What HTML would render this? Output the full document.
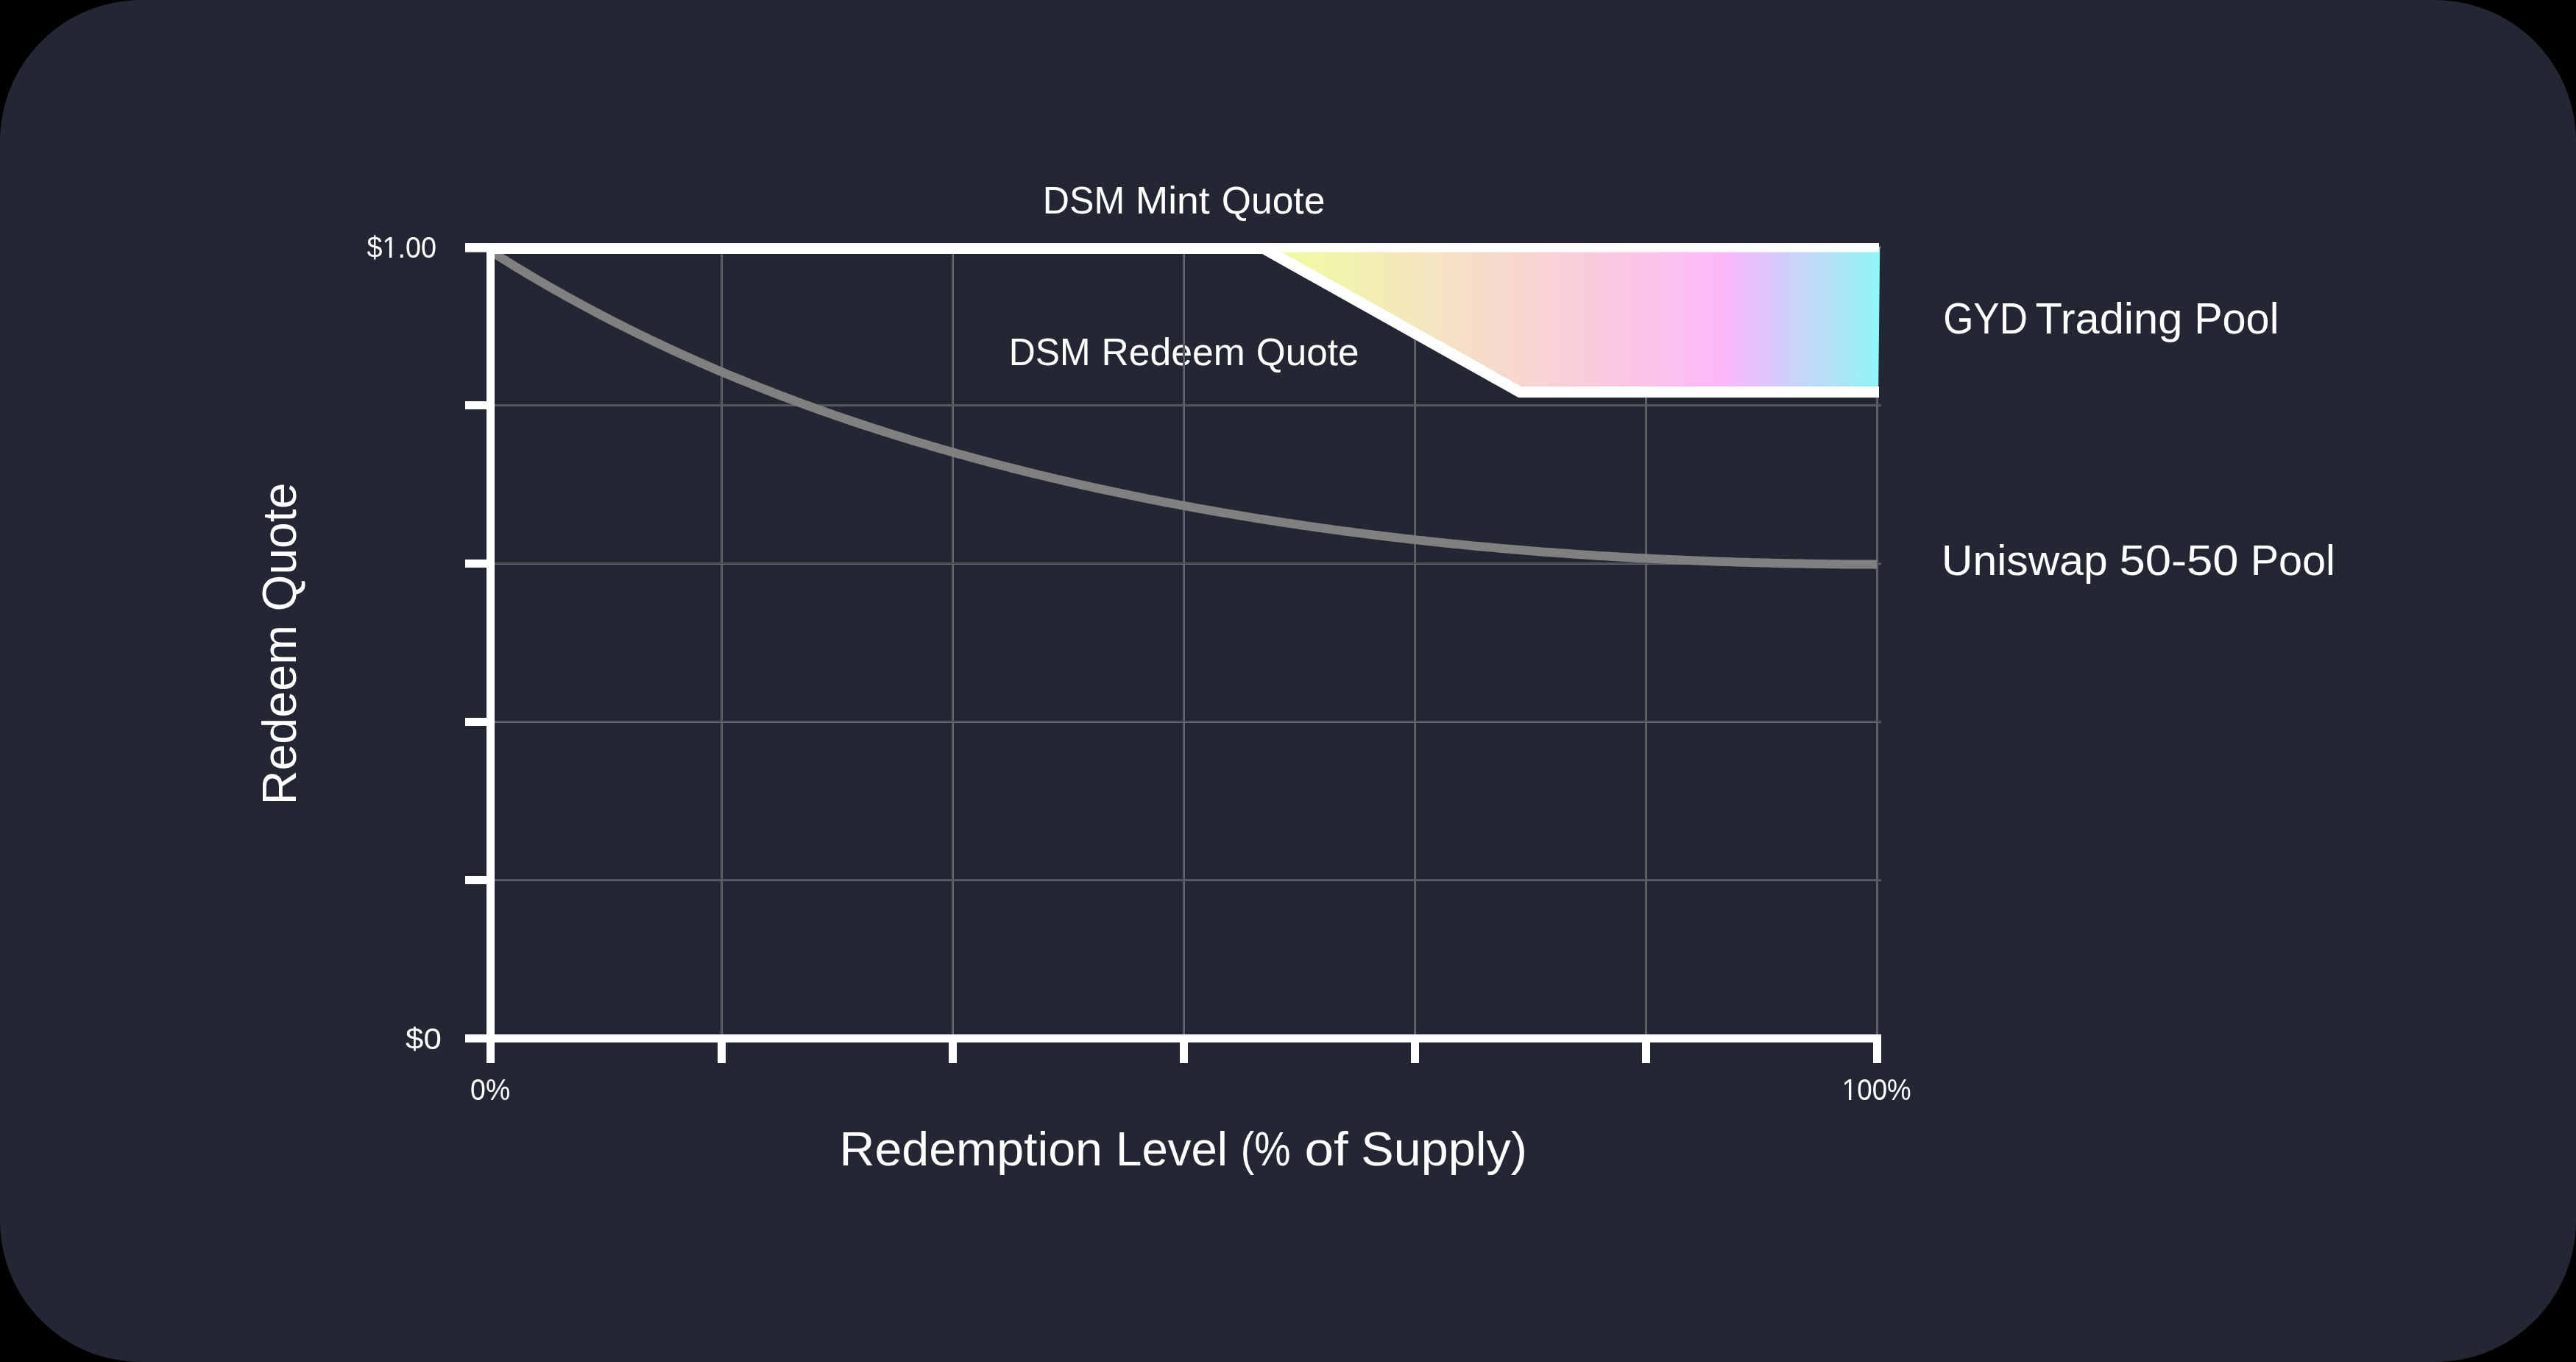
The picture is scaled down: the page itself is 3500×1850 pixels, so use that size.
<!DOCTYPE html>
<html><head><meta charset="utf-8"><style>
html,body{margin:0;padding:0;background:#000;}
body{width:3500px;height:1850px;overflow:hidden;}
svg{display:block;will-change:transform;}
text{font-family:"Liberation Sans",sans-serif;fill:#fff;-webkit-font-smoothing:antialiased;}
</style></head><body>
<svg width="3500" height="1850" viewBox="0 0 3500 1850">
<defs>
<linearGradient id="g" gradientUnits="userSpaceOnUse" x1="1740" y1="0" x2="2554" y2="0">
<stop offset="0" stop-color="#effca0"/>
<stop offset="0.3" stop-color="#f6dfc6"/>
<stop offset="0.5" stop-color="#f9cdda"/>
<stop offset="0.74" stop-color="#fcb8fa"/>
<stop offset="0.827" stop-color="#d8c9fb"/>
<stop offset="0.86" stop-color="#c8d5fa"/>
<stop offset="0.92" stop-color="#b2e2f6"/>
<stop offset="1" stop-color="#8ff5f3"/>
</linearGradient>
</defs>
<rect width="3500" height="1850" rx="192" ry="192" fill="#232733"/>
<text id="mint0" x="1416.87" y="290.3" font-size="51.6" textLength="111.27" lengthAdjust="spacingAndGlyphs">DSM</text>
<text id="mint1" x="1542.65" y="290.3" font-size="51.6" textLength="100.92" lengthAdjust="spacingAndGlyphs">Mint</text>
<text id="mint2" x="1659.80" y="290.3" font-size="51.6" textLength="140.58" lengthAdjust="spacingAndGlyphs">Quote</text>
<text id="red0" x="1370.75" y="495.5" font-size="51.6" textLength="110.80" lengthAdjust="spacingAndGlyphs">DSM</text>
<text id="red1" x="1496.56" y="495.5" font-size="51.6" textLength="195.11" lengthAdjust="spacingAndGlyphs">Redeem</text>
<text id="red2" x="1706.84" y="495.5" font-size="51.6" textLength="139.64" lengthAdjust="spacingAndGlyphs">Quote</text>
<text id="gyd0" x="2640.15" y="453.1" font-size="58.4" textLength="114.81" lengthAdjust="spacingAndGlyphs">GYD</text>
<text id="gyd1" x="2765.54" y="453.1" font-size="58.4" textLength="199.76" lengthAdjust="spacingAndGlyphs">Trading</text>
<text id="gyd2" x="2981.15" y="453.1" font-size="58.4" textLength="115.30" lengthAdjust="spacingAndGlyphs">Pool</text>
<text id="uni0" x="2638.08" y="781.2" font-size="58.0" textLength="225.52" lengthAdjust="spacingAndGlyphs">Uniswap</text>
<text id="uni1" x="2879.41" y="781.2" font-size="58.0" textLength="162.08" lengthAdjust="spacingAndGlyphs">50-50</text>
<text id="uni2" x="3057.63" y="781.2" font-size="58.0" textLength="115.28" lengthAdjust="spacingAndGlyphs">Pool</text>
<text id="lvl0" x="1140.54" y="1583.3" font-size="64.2" textLength="357.44" lengthAdjust="spacingAndGlyphs">Redemption</text>
<text id="lvl1" x="1516.07" y="1583.3" font-size="64.2" textLength="151.89" lengthAdjust="spacingAndGlyphs">Level</text>
<text id="lvl2" x="1685.68" y="1583.3" font-size="64.2" textLength="67.74" lengthAdjust="spacingAndGlyphs">(%</text>
<text id="lvl3" x="1772.45" y="1583.3" font-size="64.2" textLength="59.45" lengthAdjust="spacingAndGlyphs">of</text>
<text id="lvl4" x="1849.27" y="1583.3" font-size="64.2" textLength="225.62" lengthAdjust="spacingAndGlyphs">Supply)</text>
<text id="tk0" x="498.52" y="350.4" font-size="41" textLength="94.44" lengthAdjust="spacingAndGlyphs">$1.00</text>
<text id="tk00" x="551.07" y="1424.8" font-size="41" textLength="48.80" lengthAdjust="spacingAndGlyphs">$0</text>
<text id="tp00" x="639.10" y="1494.0" font-size="41" textLength="54.05" lengthAdjust="spacingAndGlyphs">0%</text>
<text id="tp10" x="2502.86" y="1493.6" font-size="41" textLength="93.90" lengthAdjust="spacingAndGlyphs">100%</text>
<text id="rq0" transform="translate(402.0,1093.32) rotate(-90)" font-size="64.2" textLength="244.47" lengthAdjust="spacingAndGlyphs">Redeem</text>
<text id="rq1" transform="translate(402.0,830.49) rotate(-90)" font-size="64.2" textLength="174.83" lengthAdjust="spacingAndGlyphs">Quote</text>
<rect x="521" y="347" width="7.97" height="3" fill="#232733"/><rect x="532.38" y="347" width="7.6" height="3" fill="#232733"/><rect x="2504" y="1491" width="7.97" height="3" fill="#232733"/><rect x="2515.29" y="1491" width="7.7" height="3" fill="#232733"/>
<rect x="979" y="345" width="1" height="1060" fill="#5b5f69"/><rect x="980" y="345" width="1" height="1060" fill="#4f535c"/><rect x="981" y="345" width="1" height="1060" fill="#676a74"/><rect x="1293" y="345" width="1" height="1060" fill="#5b5f69"/><rect x="1294" y="345" width="1" height="1060" fill="#4f535c"/><rect x="1295" y="345" width="1" height="1060" fill="#676a74"/><rect x="1607" y="345" width="1" height="1060" fill="#5b5f69"/><rect x="1608" y="345" width="1" height="1060" fill="#4f535c"/><rect x="1609" y="345" width="1" height="1060" fill="#676a74"/><rect x="1921" y="345" width="1" height="1060" fill="#5b5f69"/><rect x="1922" y="345" width="1" height="1060" fill="#4f535c"/><rect x="1923" y="345" width="1" height="1060" fill="#676a74"/><rect x="2235" y="345" width="1" height="1060" fill="#5b5f69"/><rect x="2236" y="345" width="1" height="1060" fill="#4f535c"/><rect x="2237" y="345" width="1" height="1060" fill="#676a74"/><rect x="2549" y="345" width="1" height="1060" fill="#5b5f69"/><rect x="2550" y="345" width="1" height="1060" fill="#4f535c"/><rect x="2551" y="345" width="1" height="1060" fill="#676a74"/><rect x="672" y="334" width="1884" height="1" fill="#52565f"/><rect x="672" y="335" width="1884" height="1" fill="#4b4f58"/><rect x="672" y="336" width="1884" height="1" fill="#64676f"/><rect x="672" y="549" width="1884" height="1" fill="#52565f"/><rect x="672" y="550" width="1884" height="1" fill="#4b4f58"/><rect x="672" y="551" width="1884" height="1" fill="#64676f"/><rect x="672" y="764" width="1884" height="1" fill="#52565f"/><rect x="672" y="765" width="1884" height="1" fill="#4b4f58"/><rect x="672" y="766" width="1884" height="1" fill="#64676f"/><rect x="672" y="979" width="1884" height="1" fill="#52565f"/><rect x="672" y="980" width="1884" height="1" fill="#4b4f58"/><rect x="672" y="981" width="1884" height="1" fill="#64676f"/><rect x="672" y="1194" width="1884" height="1" fill="#52565f"/><rect x="672" y="1195" width="1884" height="1" fill="#4b4f58"/><rect x="672" y="1196" width="1884" height="1" fill="#64676f"/>
<path d="M667.0,341.4 L673.0,345.2 L679.0,349.0 L685.0,352.7 L691.0,356.4 L697.0,360.1 L703.0,363.8 L709.0,367.4 L715.0,371.0 L721.0,374.6 L727.0,378.1 L733.0,381.6 L739.0,385.1 L745.0,388.6 L751.0,392.0 L757.0,395.4 L763.0,398.8 L769.0,402.2 L775.0,405.5 L781.0,408.8 L787.0,412.1 L793.0,415.3 L799.0,418.5 L805.0,421.7 L811.0,424.9 L817.0,428.1 L823.0,431.2 L829.0,434.3 L835.0,437.4 L841.0,440.4 L847.0,443.4 L853.0,446.5 L859.0,449.4 L865.0,452.4 L871.0,455.3 L877.0,458.2 L883.0,461.1 L889.0,464.0 L895.0,466.8 L901.0,469.7 L907.0,472.5 L913.0,475.2 L919.0,478.0 L925.0,480.7 L931.0,483.5 L937.0,486.1 L943.0,488.8 L949.0,491.5 L955.0,494.1 L961.0,496.7 L967.0,499.3 L973.0,501.9 L979.0,504.4 L985.0,507.0 L991.0,509.5 L997.0,512.0 L1003.0,514.4 L1009.0,516.9 L1015.0,519.3 L1021.0,521.7 L1027.0,524.1 L1033.0,526.5 L1039.0,528.9 L1045.0,531.2 L1051.0,533.6 L1057.0,535.9 L1063.0,538.2 L1069.0,540.4 L1075.0,542.7 L1081.0,544.9 L1087.0,547.1 L1093.0,549.3 L1099.0,551.5 L1105.0,553.7 L1111.0,555.9 L1117.0,558.0 L1123.0,560.1 L1129.0,562.2 L1135.0,564.3 L1141.0,566.4 L1147.0,568.4 L1153.0,570.5 L1159.0,572.5 L1165.0,574.5 L1171.0,576.5 L1177.0,578.5 L1183.0,580.4 L1189.0,582.4 L1195.0,584.3 L1201.0,586.2 L1207.0,588.1 L1213.0,590.0 L1219.0,591.9 L1225.0,593.8 L1231.0,595.6 L1237.0,597.4 L1243.0,599.2 L1249.0,601.1 L1255.0,602.8 L1261.0,604.6 L1267.0,606.4 L1273.0,608.1 L1279.0,609.9 L1285.0,611.6 L1291.0,613.3 L1297.0,615.0 L1303.0,616.7 L1309.0,618.3 L1315.0,620.0 L1321.0,621.6 L1327.0,623.3 L1333.0,624.9 L1339.0,626.5 L1345.0,628.1 L1351.0,629.7 L1357.0,631.2 L1363.0,632.8 L1369.0,634.3 L1375.0,635.9 L1381.0,637.4 L1387.0,638.9 L1393.0,640.4 L1399.0,641.9 L1405.0,643.3 L1411.0,644.8 L1417.0,646.3 L1423.0,647.7 L1429.0,649.1 L1435.0,650.5 L1441.0,651.9 L1447.0,653.3 L1453.0,654.7 L1459.0,656.1 L1465.0,657.5 L1471.0,658.8 L1477.0,660.1 L1483.0,661.5 L1489.0,662.8 L1495.0,664.1 L1501.0,665.4 L1507.0,666.7 L1513.0,668.0 L1519.0,669.2 L1525.0,670.5 L1531.0,671.7 L1537.0,673.0 L1543.0,674.2 L1549.0,675.4 L1555.0,676.6 L1561.0,677.8 L1567.0,679.0 L1573.0,680.1 L1579.0,681.3 L1585.0,682.5 L1591.0,683.6 L1597.0,684.7 L1603.0,685.9 L1609.0,687.0 L1615.0,688.1 L1621.0,689.2 L1627.0,690.3 L1633.0,691.4 L1639.0,692.4 L1645.0,693.5 L1651.0,694.5 L1657.0,695.6 L1663.0,696.6 L1669.0,697.6 L1675.0,698.7 L1681.0,699.7 L1687.0,700.7 L1693.0,701.6 L1699.0,702.6 L1705.0,703.6 L1711.0,704.6 L1717.0,705.5 L1723.0,706.5 L1729.0,707.4 L1735.0,708.3 L1741.0,709.2 L1747.0,710.1 L1753.0,711.0 L1759.0,711.9 L1765.0,712.8 L1771.0,713.7 L1777.0,714.6 L1783.0,715.4 L1789.0,716.3 L1795.0,717.1 L1801.0,718.0 L1807.0,718.8 L1813.0,719.6 L1819.0,720.4 L1825.0,721.2 L1831.0,722.0 L1837.0,722.8 L1843.0,723.6 L1849.0,724.3 L1855.0,725.1 L1861.0,725.9 L1867.0,726.6 L1873.0,727.3 L1879.0,728.1 L1885.0,728.8 L1891.0,729.5 L1897.0,730.2 L1903.0,730.9 L1909.0,731.6 L1915.0,732.3 L1921.0,733.0 L1927.0,733.6 L1933.0,734.3 L1939.0,735.0 L1945.0,735.6 L1951.0,736.2 L1957.0,736.9 L1963.0,737.5 L1969.0,738.1 L1975.0,738.7 L1981.0,739.3 L1987.0,739.9 L1993.0,740.5 L1999.0,741.1 L2005.0,741.7 L2011.0,742.2 L2017.0,742.8 L2023.0,743.3 L2029.0,743.9 L2035.0,744.4 L2041.0,745.0 L2047.0,745.5 L2053.0,746.0 L2059.0,746.5 L2065.0,747.0 L2071.0,747.5 L2077.0,748.0 L2083.0,748.5 L2089.0,748.9 L2095.0,749.4 L2101.0,749.9 L2107.0,750.3 L2113.0,750.8 L2119.0,751.2 L2125.0,751.6 L2131.0,752.1 L2137.0,752.5 L2143.0,752.9 L2149.0,753.3 L2155.0,753.7 L2161.0,754.1 L2167.0,754.5 L2173.0,754.9 L2179.0,755.2 L2185.0,755.6 L2191.0,756.0 L2197.0,756.3 L2203.0,756.7 L2209.0,757.0 L2215.0,757.3 L2221.0,757.7 L2227.0,758.0 L2233.0,758.3 L2239.0,758.6 L2245.0,758.9 L2251.0,759.2 L2257.0,759.5 L2263.0,759.8 L2269.0,760.1 L2275.0,760.3 L2281.0,760.6 L2287.0,760.8 L2293.0,761.1 L2299.0,761.3 L2305.0,761.6 L2311.0,761.8 L2317.0,762.0 L2323.0,762.3 L2329.0,762.5 L2335.0,762.7 L2341.0,762.9 L2347.0,763.1 L2353.0,763.3 L2359.0,763.5 L2365.0,763.7 L2371.0,763.8 L2377.0,764.0 L2383.0,764.2 L2389.0,764.3 L2395.0,764.5 L2401.0,764.6 L2407.0,764.8 L2413.0,764.9 L2419.0,765.1 L2425.0,765.2 L2431.0,765.3 L2437.0,765.4 L2443.0,765.5 L2449.0,765.6 L2455.0,765.7 L2461.0,765.8 L2467.0,765.9 L2473.0,766.0 L2479.0,766.1 L2485.0,766.2 L2491.0,766.2 L2497.0,766.3 L2503.0,766.4 L2509.0,766.4 L2515.0,766.5 L2521.0,766.5 L2527.0,766.6 L2533.0,766.6 L2539.0,766.6 L2545.0,766.6 L2550.0,766.7" fill="none" stroke="#808080" stroke-width="12"/>
<polygon points="1719,336 2554.2,336 2552.2,526 2066,526" fill="url(#g)"/>
<polyline points="667,337.5 1717,337.5 2065,532.5 2553,532.5" fill="none" stroke="#ffffff" stroke-width="15" stroke-linejoin="miter"/>
<rect x="632" y="330" width="1921" height="12.5" fill="#ffffff"/>
<rect x="661" y="330" width="11" height="1114" fill="#ffffff"/>
<rect x="632" y="1405" width="1924" height="11" fill="#ffffff"/>
<rect x="632" y="330.0" width="35" height="11" fill="#ffffff"/><rect x="632" y="545.0" width="35" height="11" fill="#ffffff"/><rect x="632" y="760.0" width="35" height="11" fill="#ffffff"/><rect x="632" y="975.0" width="35" height="11" fill="#ffffff"/><rect x="632" y="1190.0" width="35" height="11" fill="#ffffff"/><rect x="632" y="1405.0" width="35" height="11" fill="#ffffff"/><rect x="661.0" y="1405" width="11" height="39" fill="#ffffff"/><rect x="975.0" y="1405" width="11" height="39" fill="#ffffff"/><rect x="1289.0" y="1405" width="11" height="39" fill="#ffffff"/><rect x="1603.0" y="1405" width="11" height="39" fill="#ffffff"/><rect x="1917.0" y="1405" width="11" height="39" fill="#ffffff"/><rect x="2231.0" y="1405" width="11" height="39" fill="#ffffff"/><rect x="2545.0" y="1405" width="11" height="39" fill="#ffffff"/>
</svg>
</body></html>
